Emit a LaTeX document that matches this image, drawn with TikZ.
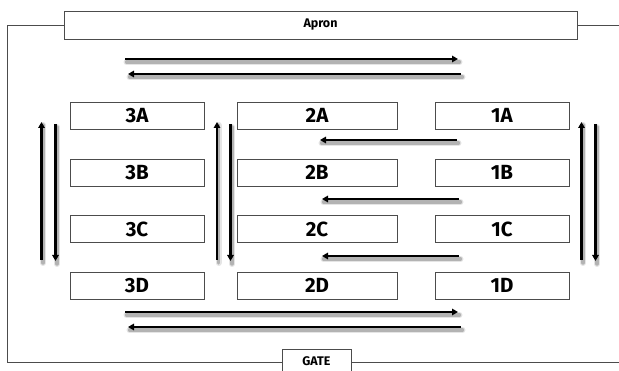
\documentclass[tikz,border=0pt]{standalone}
\usepackage{fontspec}
\setmainfont{Fira Sans}
\usetikzlibrary{arrows.meta}

% one traffic lane: soft grey shadow first, then the black arrow
\newcommand{\lane}[2]{%
  \draw[laneshadow, line width=6pt, opacity=0.10] ([shift={(1.5,3)}]#1) -- ([shift={(1.5,3)}]#2);
  \draw[laneshadow, line width=3.5pt, opacity=0.22] ([shift={(1.5,3)}]#1) -- ([shift={(1.5,3)}]#2);
  \draw[lane] (#1) -- (#2);}

\begin{document}
\begin{tikzpicture}[x=1pt,y=-1pt,
  stall/.style={draw=black!70, line width=0.8pt, minimum height=27pt, inner sep=0pt,
    font=\fontsize{20.5}{20.5}\selectfont\bfseries},
  narrow/.style={stall, minimum width=134pt},
  wide/.style={stall, minimum width=160pt},
  frame/.style={draw=black!70, line width=0.7pt},
  lane/.style={line width=2.4pt, -{Triangle[length=6pt,width=6.5pt]}},
  laneshadow/.style={black, line cap=round}
]
\useasboundingbox (0,0) rectangle (619,371);

% apron and gate
\node[frame, minimum width=513pt, minimum height=28pt, inner sep=0pt,
  font=\fontsize{12.5}{12.5}\selectfont\bfseries] (apron) at (320.5,25) {Apron};
\coordinate (gateL) at (282,362);
\coordinate (gateR) at (351,362);
\draw[frame] (282,371) -- (282,349) -- (351,349) -- (351,371);
\node[font=\fontsize{12.5}{12.5}\selectfont\bfseries] (gate) at (316.5,361.5) {GATE};

% perimeter line
\coordinate (cornerNW) at (7.5,25);
\coordinate (cornerSW) at (7.5,362);
\coordinate (edgeNE) at (619,25);
\coordinate (edgeSE) at (619,362);
\draw[frame] (apron.west) -- (cornerNW) -- (cornerSW) -- (gateL);
\draw[frame] (apron.east) -- (edgeNE);
\draw[frame] (gateR) -- (edgeSE);

% parking stalls
\foreach \r/\y in {A/115.7, B/172.5, C/229, D/285.5} {
  \node[narrow] (3\r) at (137,\y) {3\r};
  \node[wide]   (2\r) at (317,\y) {2\r};
  \node[narrow] (1\r) at (502,\y) {1\r};
}

% lane end points
\coordinate (t1s) at (125,59);  \coordinate (t1e) at (458,59);
\coordinate (t2s) at (461,74);  \coordinate (t2e) at (128,74);
\coordinate (b1s) at (125,312); \coordinate (b1e) at (458,312);
\coordinate (b2s) at (461,327); \coordinate (b2e) at (128,327);
\coordinate (m1s) at (457,140); \coordinate (m1e) at (320,140);
\coordinate (m2s) at (459,199); \coordinate (m2e) at (322,199);
\coordinate (m3s) at (459,256); \coordinate (m3e) at (322,256);
\coordinate (lus) at (41.5,260); \coordinate (lue) at (41.5,122);
\coordinate (lds) at (55.5,124); \coordinate (lde) at (55.5,261);
\coordinate (cus) at (217,260);  \coordinate (cue) at (217,122);
\coordinate (cds) at (230.5,124); \coordinate (cde) at (230.5,261);
\coordinate (rus) at (581.5,260); \coordinate (rue) at (581.5,122);
\coordinate (rds) at (595.5,124); \coordinate (rde) at (595.5,261);

% lanes
\lane{t1s}{t1e} \lane{t2s}{t2e}
\lane{b1s}{b1e} \lane{b2s}{b2e}
\lane{m1s}{m1e} \lane{m2s}{m2e} \lane{m3s}{m3e}
\lane{lus}{lue} \lane{lds}{lde}
\lane{cus}{cue} \lane{cds}{cde}
\lane{rus}{rue} \lane{rds}{rde}
\end{tikzpicture}
\end{document}
